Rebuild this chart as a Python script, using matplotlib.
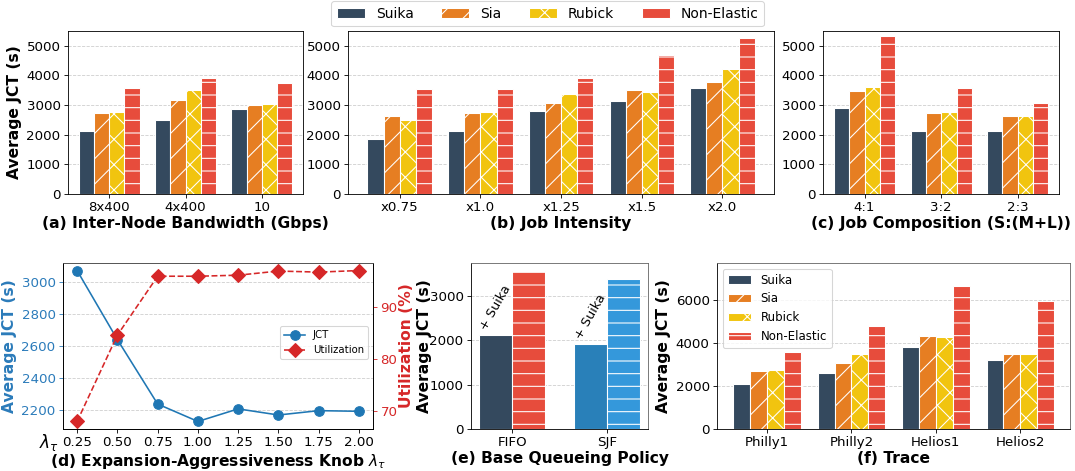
import numpy as np
import matplotlib
matplotlib.use('Agg')
import matplotlib.pyplot as plt

methods = ['Suika', 'Sia', 'Rubick', 'Non-Elastic']
colors = ['#34495e', '#e67e22', '#f1c40f', '#e74c3c']
hatches = ['', '/', 'x', '-']

# (a) inter-node bandwidth
bw_cats = ['8x400', '4x400', '10']
bw_suika = [2120, 2495, 2855]
bw_sia = [2740, 3170, 3010]
bw_rubick = [2775, 3505, 3045]
bw_nonelastic = [3560, 3900, 3730]

# (b) job intensity
ji_cats = ['x0.75', 'x1.0', 'x1.25', 'x1.5', 'x2.0']
ji_suika = [1855, 2110, 2785, 3135, 3575]
ji_sia = [2620, 2740, 3080, 3505, 3775]
ji_rubick = [2495, 2775, 3360, 3450, 4225]
ji_nonelastic = [3550, 3555, 3920, 4675, 5270]

# (c) job composition
jc_cats = ['4:1', '3:2', '2:3']
jc_suika = [2900, 2110, 2110]
jc_sia = [3460, 2740, 2640]
jc_rubick = [3605, 2775, 2620]
jc_nonelastic = [5335, 3560, 3065]

# (d) expansion-aggressiveness knob
knob = [0.25, 0.50, 0.75, 1.00, 1.25, 1.50, 1.75, 2.00]
knob_jct = [3068, 2640, 2240, 2132, 2210, 2172, 2199, 2195]
knob_util = [67.9, 84.6, 96.0, 96.0, 96.2, 97.0, 96.8, 97.1]

# (e) base queueing policy
policy_cats = ['FIFO', 'SJF']
policy_suika = [2110, 1915]
policy_base = [3565, 3378]

# (f) trace
tr_cats = ['Philly1', 'Philly2', 'Helios1', 'Helios2']
tr_suika = [2110, 2605, 3815, 3210]
tr_sia = [2730, 3100, 4355, 3520]
tr_rubick = [2775, 3520, 4295, 3490]
tr_nonelastic = [3580, 4820, 6680, 5970]

plt.rcParams['font.family'] = 'DejaVu Sans'
plt.rcParams['hatch.linewidth'] = 1.0

fig = plt.figure(figsize=(14, 471 / 76.8), dpi=76.8)

W = 1075.0
H = 471.0


def box(l, t, r, b):
    return [l / W, (H - b) / H, (r - l) / W, (b - t) / H]


def grouped(ax, cats, series, width=0.2):
    x = np.arange(len(cats))
    bars = []
    for i, vals in enumerate(series):
        off = (i - 1.5) * width
        b = ax.bar(x + off, vals, width, color=colors[i], hatch=hatches[i],
                   edgecolor='white', linewidth=1.0, label=methods[i])
        bars.append(b)
    ax.set_xticks(x)
    ax.set_xticklabels(cats)
    ax.yaxis.grid(True, linestyle='--', color='#bbbbbb', alpha=0.7)
    ax.set_axisbelow(True)
    ax.tick_params(labelsize=12.5)
    return bars


lab = dict(fontsize=14.5, fontweight='bold')
jct_ticks = [0, 1000, 2000, 3000, 4000, 5000]

ax_a = fig.add_axes(box(68, 31, 303, 194))
bars = grouped(ax_a, bw_cats, [bw_suika, bw_sia, bw_rubick, bw_nonelastic])
ax_a.set_ylim(0, 5500)
ax_a.set_yticks(jct_ticks)
ax_a.set_ylabel('Average JCT (s)', **lab)
ax_a.set_xlabel('(a) Inter-Node Bandwidth (Gbps)', labelpad=1, **lab)

ax_b = fig.add_axes(box(348, 31, 774, 194))
grouped(ax_b, ji_cats, [ji_suika, ji_sia, ji_rubick, ji_nonelastic])
ax_b.set_ylim(0, 5500)
ax_b.set_yticks(jct_ticks)
ax_b.set_xlabel('(b) Job Intensity', labelpad=1, **lab)

ax_c = fig.add_axes(box(823, 31, 1059, 194))
grouped(ax_c, jc_cats, [jc_suika, jc_sia, jc_rubick, jc_nonelastic])
ax_c.set_ylim(0, 5500)
ax_c.set_yticks(jct_ticks)
ax_c.set_xlabel('(c) Job Composition (S:(M+L))', labelpad=1, **lab)

fig.legend(bars, methods, loc='upper center', bbox_to_anchor=(0.5095, 1.0),
           ncol=4, fontsize=13, columnspacing=2.0, handlelength=2.0,
           borderaxespad=0.1, frameon=True)

# (d)
ax_d = fig.add_axes(box(63, 263, 373, 429))
blue = '#2b7bba'
red = '#d62728'
l1, = ax_d.plot(knob, knob_jct, '-o', color='#1f77b4', markersize=9, label='JCT')
ax_d.set_xticks(knob)
ax_d.set_xticklabels(['%.2f' % k for k in knob])
ax_d.set_yticks([2200, 2400, 2600, 2800, 3000])
ax_d.tick_params(labelsize=12.5)
ax_d.tick_params(axis='y', colors=blue)
ax_d.set_ylabel('Average JCT (s)', color=blue, **lab)
ax_d.yaxis.grid(True, linestyle='--', color='#bbbbbb', alpha=0.7)
ax_d.set_xlabel(r'(d) Expansion-Aggressiveness Knob $\lambda_\tau$', labelpad=2, **lab)
ax_d.text(-0.012, -0.08, r'$\lambda_\tau$', transform=ax_d.transAxes,
          fontsize=16, ha='right', va='center')
ax_d2 = ax_d.twinx()
l2, = ax_d2.plot(knob, knob_util, '--D', color=red, markersize=9, label='Utilization')
ax_d2.set_yticks([70, 80, 90])
ax_d2.tick_params(labelsize=12.5, colors=red, axis='y')
ax_d2.set_ylabel('Utilization (%)', color=red, labelpad=1, **lab)
ax_d.legend([l1, l2], ['JCT', 'Utilization'], loc='center right', fontsize=9.5,
            bbox_to_anchor=(1.0, 0.52))
ax_d.spines['top'].set_color('#555555')
ax_d2.spines['top'].set_color('#555555')

# (e)
ax_e = fig.add_axes(box(471, 263, 648, 429))
xp = np.arange(len(policy_cats))
wd = 0.35
ax_e.bar(xp - wd / 2, policy_suika, wd, color=['#34495e', '#2980b9'],
         edgecolor='white', linewidth=1.0)
ax_e.bar(xp + wd / 2, policy_base, wd, color=['#e74c3c', '#3498db'],
         hatch='-', edgecolor='white', linewidth=1.0)
for xi, v in zip(xp, policy_suika):
    ax_e.text(xi - wd / 2, v + 60, '+ Suika', rotation=60, ha='center',
              va='bottom', fontsize=12)
ax_e.set_xticks(xp)
ax_e.set_xticklabels(policy_cats)
ax_e.set_yticks([0, 1000, 2000, 3000])
ax_e.tick_params(labelsize=12.5)
ax_e.yaxis.grid(True, linestyle='--', color='#bbbbbb', alpha=0.7)
ax_e.set_axisbelow(True)
ax_e.set_ylabel('Average JCT (s)', labelpad=-2, **lab)
ax_e.set_xlabel('(e) Base Queueing Policy', labelpad=1, **lab)
for s in ['top', 'right']:
    ax_e.spines[s].set_color('#666666')

# (f)
ax_f = fig.add_axes(box(717, 263, 1070, 429))
grouped(ax_f, tr_cats, [tr_suika, tr_sia, tr_rubick, tr_nonelastic])
ax_f.set_ylim(0, max(tr_nonelastic) * 1.16)
ax_f.set_yticks([0, 2000, 4000, 6000])
ax_f.set_ylabel('Average JCT (s)', **lab)
ax_f.set_xlabel('(f) Trace', labelpad=1, **lab)
ax_f.legend(loc='upper left', fontsize=11)
for s in ['top', 'right']:
    ax_f.spines[s].set_color('#666666')

fig.savefig('out.png', dpi=76.8)
